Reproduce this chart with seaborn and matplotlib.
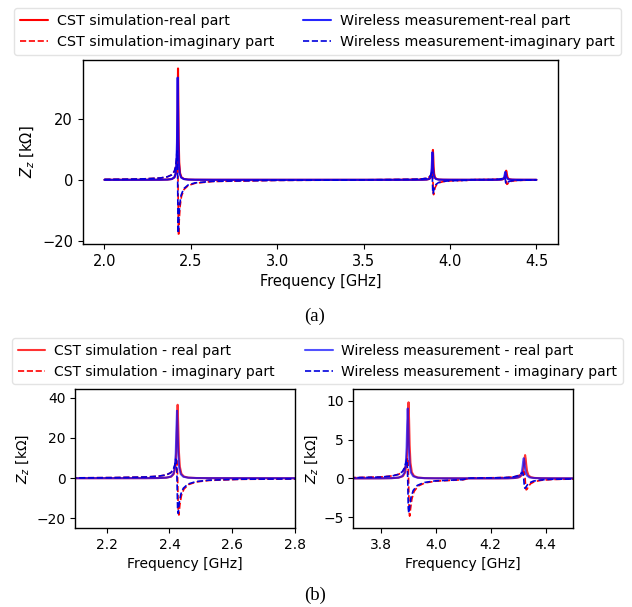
import matplotlib
matplotlib.use("Agg")
import matplotlib.pyplot as plt
import pandas as pd
import seaborn as sns

# CST simulation, frequency in GHz, impedance in kOhm
freq_cst = [2.0, 2.1,
            2.226, 2.326, 2.366, 2.391, 2.406, 2.414, 2.419, 2.422, 2.424, 2.426,
            2.428, 2.430, 2.433, 2.438, 2.446, 2.461, 2.486, 2.526, 2.626,
            3.0, 3.4,
            3.701, 3.801, 3.841, 3.866, 3.881, 3.889, 3.894, 3.897, 3.899, 3.901,
            3.903, 3.905, 3.908, 3.913, 3.921, 3.936, 3.961, 4.001, 4.101,
            4.125, 4.225, 4.265, 4.290, 4.305, 4.313, 4.318, 4.321, 4.323, 4.325,
            4.327, 4.329, 4.332, 4.337, 4.345, 4.360, 4.385, 4.425,
            4.5]
real_cst = [0, 0,
            0.01, 0.03, 0.09, 0.27, 0.82, 2.19, 5.76, 13.3, 25.4, 36.5,
            25.4, 13.3, 5.76, 2.19, 0.82, 0.27, 0.09, 0.03, 0.01,
            0, 0,
            0.003, 0.012, 0.034, 0.10, 0.30, 0.79, 2.01, 4.30, 7.48, 9.8,
            7.48, 4.30, 2.01, 0.79, 0.30, 0.10, 0.034, 0.012, 0.003,
            0.002, 0.007, 0.019, 0.056, 0.164, 0.41, 0.96, 1.78, 2.55, 3.0,
            2.55, 1.78, 0.96, 0.41, 0.164, 0.056, 0.019, 0.007,
            0.002]
imag_cst = [0.13, 0.18,
            0.3, 0.6, 1.0, 1.7, 2.9, 4.6, 7.0, 9.0, 8.5, 0,
            -17.0, -18.3, -13.3, -8.67, -5.41, -3.14, -1.84, -1.11, -0.55,
            -0.19, -0.08,
            0.1, 0.19, 0.32, 0.54, 0.93, 1.47, 2.18, 2.67, 2.3, 0,
            -4.19, -4.86, -3.96, -2.67, -1.69, -0.98, -0.58, -0.35, -0.17,
            0.04, 0.09, 0.14, 0.24, 0.41, 0.62, 0.84, 0.88, 0.64, 0,
            -1.07, -1.47, -1.40, -1.03, -0.68, -0.40, -0.24, -0.14,
            -0.08]

# wireless measurement
freq_meas = [2.0, 2.1,
             2.224, 2.324, 2.364, 2.389, 2.404, 2.412, 2.417, 2.420, 2.422, 2.424,
             2.426, 2.428, 2.431, 2.436, 2.444, 2.459, 2.484, 2.524, 2.624,
             3.0, 3.4,
             3.698, 3.798, 3.838, 3.863, 3.878, 3.886, 3.891, 3.894, 3.896, 3.898,
             3.900, 3.902, 3.905, 3.910, 3.918, 3.933, 3.958, 3.998, 4.098,
             4.120, 4.220, 4.260, 4.285, 4.300, 4.308, 4.313, 4.316, 4.318, 4.320,
             4.322, 4.324, 4.327, 4.332, 4.340, 4.355, 4.380, 4.420,
             4.5]
real_meas = [0, 0,
             0.01, 0.03, 0.08, 0.25, 0.75, 2.0, 5.3, 12.2, 23.3, 33.5,
             23.3, 12.2, 5.3, 2.0, 0.75, 0.25, 0.08, 0.03, 0.01,
             0, 0,
             0.003, 0.011, 0.031, 0.09, 0.28, 0.73, 1.85, 3.95, 6.87, 9.0,
             6.87, 3.95, 1.85, 0.73, 0.28, 0.09, 0.031, 0.011, 0.003,
             0.002, 0.006, 0.016, 0.049, 0.14, 0.36, 0.83, 1.54, 2.21, 2.6,
             2.21, 1.54, 0.83, 0.36, 0.14, 0.049, 0.016, 0.006,
             0.002]
imag_meas = [0.12, 0.16,
             0.3, 0.6, 1.0, 1.6, 2.7, 4.3, 6.6, 9.5, 8.5, 0,
             -15.6, -17.5, -12.2, -8.0, -5.0, -2.9, -1.7, -1.0, -0.5,
             -0.17, -0.07,
             0.09, 0.17, 0.29, 0.50, 0.85, 1.35, 2.0, 2.45, 2.1, 0,
             -3.85, -4.46, -3.64, -2.45, -1.55, -0.9, -0.53, -0.32, -0.16,
             0.03, 0.08, 0.12, 0.21, 0.36, 0.54, 0.73, 0.76, 0.55, 0,
             -0.93, -1.27, -1.21, -0.89, -0.59, -0.35, -0.21, -0.12,
             -0.07]

cst = pd.DataFrame({'f': freq_cst, 're': real_cst, 'im': imag_cst})
meas = pd.DataFrame({'f': freq_meas, 're': real_meas, 'im': imag_meas})

sns.set_style('ticks', rc={'axes.edgecolor': 'black', 'xtick.color': 'black',
                           'ytick.color': 'black', 'text.color': 'black',
                           'axes.labelcolor': 'black'})
plt.rcParams['font.family'] = ['DejaVu Sans']

fig = plt.figure(figsize=(6.32, 6.07), dpi=100)


def draw(ax, labels, fs, real_alpha=1.0):
    sns.lineplot(data=cst, x='f', y='re', ax=ax, color='red', lw=1.5,
                 alpha=real_alpha, estimator=None, label=labels[0])
    sns.lineplot(data=cst, x='f', y='im', ax=ax, color='red', lw=1.2,
                 linestyle='--', estimator=None, label=labels[1])
    sns.lineplot(data=meas, x='f', y='re', ax=ax, color='blue', lw=1.5,
                 alpha=real_alpha * 0.85, estimator=None, label=labels[2])
    sns.lineplot(data=meas, x='f', y='im', ax=ax, color='#0000dd', lw=1.2,
                 linestyle='--', estimator=None, label=labels[3])
    ax.set_xlabel('Frequency [GHz]', fontsize=fs)
    ax.set_ylabel(r'$Z_z$ [k$\Omega$]', fontsize=fs)
    ax.tick_params(labelsize=fs, color='black', labelcolor='black')
    ax.get_legend().remove()
    for s in ax.spines.values():
        s.set_linewidth(1.0)
        s.set_color('black')


legend_kw = dict(loc='center', ncol=2, frameon=True, edgecolor='#dddddd',
                 handletextpad=0.6, borderpad=0.4)

# (a) full band
ax_a = fig.add_axes([0.131, 0.598, 0.752, 0.303])
labels_a = ['CST simulation-real part', 'CST simulation-imaginary part',
            'Wireless measurement-real part', 'Wireless measurement-imaginary part']
draw(ax_a, labels_a, 10.5)
ax_a.set_xticks([2.0, 2.5, 3.0, 3.5, 4.0, 4.5])
ax_a.set_yticks([-20, 0, 20])
h, l = ax_a.get_legend_handles_labels()
fig.legend(h, l, bbox_to_anchor=(0.502, 0.948), fontsize=10.3,
           columnspacing=2.0, **legend_kw)

# (b) zoomed views
labels_b = ['CST simulation - real part', 'CST simulation - imaginary part',
            'Wireless measurement - real part', 'Wireless measurement - imaginary part']
ax_b1 = fig.add_axes([0.119, 0.130, 0.348, 0.229])
draw(ax_b1, labels_b, 10, real_alpha=0.8)
ax_b1.set_xlim(2.1, 2.8)
ax_b1.set_ylim(-24.8, 44.3)
ax_b1.set_xticks([2.2, 2.4, 2.6, 2.8])
ax_b1.set_yticks([-20, 0, 20, 40])

ax_b2 = fig.add_axes([0.559, 0.130, 0.348, 0.229])
draw(ax_b2, labels_b, 10, real_alpha=0.8)
ax_b2.set_xlim(3.7, 4.5)
ax_b2.set_ylim(-6.4, 11.5)
ax_b2.set_xticks([3.8, 4.0, 4.2, 4.4])
ax_b2.set_yticks([-5, 0, 5, 10])
ax_b2.yaxis.labelpad = 2

h, l = ax_b1.get_legend_handles_labels()
fig.legend(h, l, bbox_to_anchor=(0.502, 0.405), fontsize=10,
           columnspacing=2.2, **legend_kw)

fig.text(0.498, 0.479, '(a)', ha='center', va='center', fontsize=13.5,
         family=['Liberation Serif', 'DejaVu Serif'])
fig.text(0.498, 0.020, '(b)', ha='center', va='center', fontsize=13.5,
         family=['Liberation Serif', 'DejaVu Serif'])

fig.savefig('out.png', dpi=100)
